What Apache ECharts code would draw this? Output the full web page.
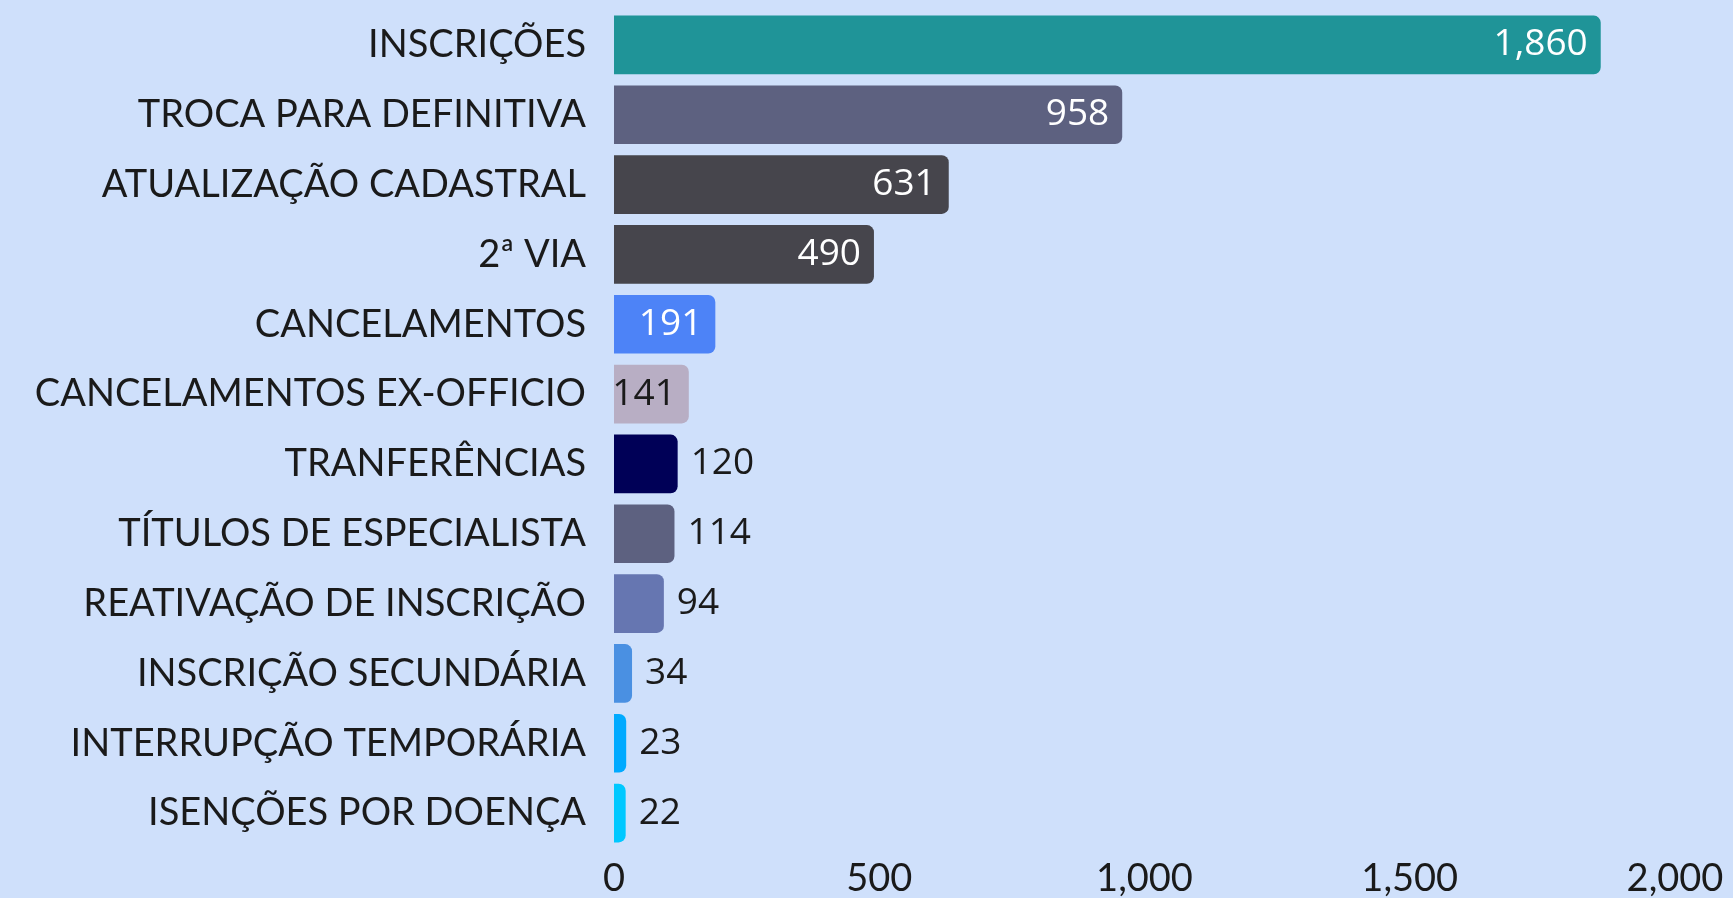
<!DOCTYPE html>
<html><head><meta charset="utf-8">
<script src="https://cdn.jsdelivr.net/npm/echarts@6/dist/echarts.min.js"></script>
<style>html,body{margin:0;padding:0;background:#cfe0fb;}#c{width:1733px;height:898px;}</style>
</head><body><div id="c"></div>
<script>
const categories = ["INSCRIÇÕES","TROCA PARA DEFINITIVA","ATUALIZAÇÃO CADASTRAL","2ª VIA","CANCELAMENTOS","CANCELAMENTOS EX-OFFICIO","TRANFERÊNCIAS","TÍTULOS DE ESPECIALISTA","REATIVAÇÃO DE INSCRIÇÃO","INSCRIÇÃO SECUNDÁRIA","INTERRUPÇÃO TEMPORÁRIA","ISENÇÕES POR DOENÇA"];
const values = [1860,958,631,490,191,141,120,114,94,34,23,22];
const xTicks = [0,500,1000,1500,2000];

const barColors = ["#1f9498","#5d6180","#46454c","#46454c","#4d83f7","#b8aec4","#000057","#5d6180","#6676b1","#4a90e2","#00aaff","#00c8ff"];
const insideThreshold = 140;

const data = values.map((v,i)=>{
  const inside = v >= insideThreshold;
  const lightBar = barColors[i] === "#b8aec4";
  return {
    value: v,
    itemStyle: {color: barColors[i], borderRadius:[0,7,7,0]},
    label: {
      show: true,
      position: inside ? 'insideRight' : 'right',
      distance: 13,
      color: inside && !lightBar ? '#ffffff' : '#1a1a1a'
    }
  };
});

const chart = echarts.init(document.getElementById('c'), null, {renderer:'canvas'});
chart.setOption({
  backgroundColor:'#cfe0fb',
  animation:false,
  grid:{left:614, right:58, top:10, bottom:45, containLabel:false},
  xAxis:{
    type:'value', min:xTicks[0], max:xTicks[xTicks.length-1], interval:500,
    splitLine:{show:false}, axisLine:{show:false}, axisTick:{show:false},
    axisLabel:{fontFamily:'Lato', fontSize:38, color:'#1a1a1a', margin:12,
      formatter:v=>v.toLocaleString('en-US')}
  },
  yAxis:{
    type:'category', data:categories, inverse:true,
    axisLine:{show:false}, axisTick:{show:false},
    axisLabel:{fontFamily:'Lato', fontSize:38, color:'#1a1a1a', margin:28}
  },
  series:[{
    type:'bar', data:data, barCategoryGap:'16%',
    label:{fontFamily:'Open Sans', fontSize:37, formatter:p=>p.value.toLocaleString('en-US')}
  }]
});
</script></body></html>
